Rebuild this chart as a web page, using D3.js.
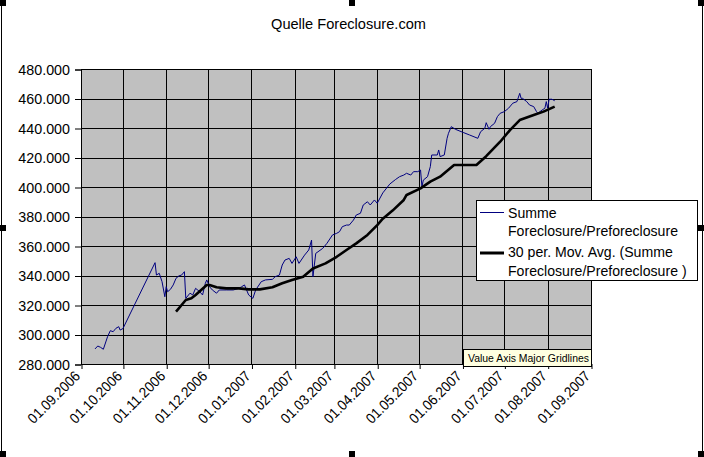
<!DOCTYPE html>
<html><head><meta charset="utf-8">
<script src="https://cdn.jsdelivr.net/npm/d3@7"></script>
<style>html,body{margin:0;padding:0;background:#fff;}svg{display:block;}</style>
</head><body>
<svg id="chart" width="704" height="457"></svg>
<script>
// ---- data (values in thousands) ----
const titleText = "Quelle Foreclosure.com";
const seriesName = "Summe Foreclosure/Preforeclosure";
const maName = "30 per. Mov. Avg. (Summe Foreclosure/Preforeclosure )";
const yTicks = [280,300,320,340,360,380,400,420,440,460,480];
const xTickStart = "2006-09-01", xTickEnd = "2007-09-01";

const sumDates = ["2006-09-11","2006-09-13","2006-09-15","2006-09-17","2006-09-20","2006-09-22","2006-09-24","2006-09-26","2006-09-28","2006-09-29","2006-10-01",
"2006-10-24","2006-10-25","2006-10-27","2006-10-29","2006-10-31","2006-11-01","2006-11-02","2006-11-04","2006-11-06","2006-11-08","2006-11-10","2006-11-12","2006-11-14","2006-11-15","2006-11-18","2006-11-20","2006-11-22","2006-11-25","2006-11-27","2006-11-29","2006-11-30",
"2006-12-02","2006-12-04","2006-12-07","2006-12-09","2006-12-14","2006-12-19","2006-12-23","2006-12-25","2006-12-27","2006-12-30",
"2007-01-02","2007-01-04","2007-01-08","2007-01-11","2007-01-16","2007-01-18","2007-01-21","2007-01-23","2007-01-25","2007-01-28","2007-01-30",
"2007-02-02","2007-02-04","2007-02-08","2007-02-11","2007-02-13","2007-02-14","2007-02-16","2007-02-21","2007-02-24","2007-02-28",
"2007-03-03","2007-03-05","2007-03-07","2007-03-10","2007-03-12","2007-03-15","2007-03-17","2007-03-20","2007-03-22","2007-03-25","2007-03-27","2007-03-30",
"2007-04-01","2007-04-05","2007-04-10","2007-04-14","2007-04-17","2007-04-20","2007-04-22","2007-04-25","2007-04-27","2007-04-30",
"2007-05-02","2007-05-03","2007-05-04","2007-05-07","2007-05-09","2007-05-10","2007-05-14","2007-05-15","2007-05-16","2007-05-19","2007-05-21","2007-05-22","2007-05-24","2007-05-27",
"2007-06-02","2007-06-06","2007-06-12","2007-06-14","2007-06-17","2007-06-18","2007-06-20","2007-06-21","2007-06-24","2007-06-26","2007-06-28",
"2007-07-01","2007-07-04","2007-07-07","2007-07-10","2007-07-12","2007-07-13","2007-07-14","2007-07-17","2007-07-19","2007-07-22","2007-07-24","2007-07-25","2007-07-28","2007-07-30","2007-07-31",
"2007-08-01","2007-08-02","2007-08-04","2007-08-06"];
const sumValues = [290.2,292.2,291.3,290.0,298.5,302.6,301.9,304.2,305.3,303.0,304.0,
348.7,340.3,341.5,335.8,325.6,332.4,329.0,330.6,333.6,338.1,339.7,340.3,342.6,324.5,328.0,326.8,331.3,329.0,326.8,334.7,337.0,
332.4,330.2,328.0,330.2,330.2,330.2,331.3,332.4,333.6,326.8,
324.5,330.2,335.8,337.0,337.4,339.2,340.3,347.1,350.5,351.6,348.2,
352.7,348.2,353.8,357.3,364.0,339.2,355.0,358.4,361.8,367.5,
368.6,369.7,373.1,374.2,374.2,377.6,381.0,382.2,387.8,390.0,387.8,391.2,
389.0,396.0,402.0,405.0,407.0,408.1,409.3,408.1,410.4,410.4,
411.5,400.2,404.7,407.0,413.8,421.7,421.7,425.1,420.6,421.7,433.0,436.4,440.9,439.1,
436.8,435.3,433.0,437.5,439.8,443.6,439.1,440.9,443.2,447.7,450.0,
451.1,453.4,456.8,457.9,463.5,460.1,460.1,457.9,455.6,454.5,451.1,450.0,452.2,453.4,457.9,
453.4,459.5,459.5,458.5];

const maDates = ["2006-11-08","2006-11-10","2006-11-12","2006-11-15","2006-11-19","2006-11-22","2006-11-26","2006-11-30","2006-12-02","2006-12-07","2006-12-14","2006-12-23","2006-12-30",
"2007-01-07","2007-01-16","2007-01-23","2007-01-30","2007-02-07","2007-02-14","2007-02-23","2007-03-03","2007-03-10","2007-03-17","2007-03-25",
"2007-04-01","2007-04-05","2007-04-12","2007-04-20","2007-04-22","2007-05-02","2007-05-09","2007-05-16","2007-05-26","2007-06-11","2007-06-18","2007-06-28",
"2007-07-05","2007-07-12","2007-07-22","2007-07-29","2007-08-06"];
const maValues = [315.5,317.7,320.0,323.4,324.5,326.8,330.2,333.6,333.6,332.0,331.3,331.3,330.6,
330.6,332.0,334.7,337.0,339.2,344.8,348.2,352.7,357.3,361.8,367.5,
374.2,378.5,384.0,391.2,394.6,399.1,403.6,407.0,414.9,414.9,420.9,430.7,
438.6,445.4,448.8,451.1,454.5];

// ---- drawing ----
const FONT = "'Liberation Sans', Arial, sans-serif";
const svg = d3.select("#chart");
const parse = d3.utcParse("%Y-%m-%d");
const plot = {l:81, r:591, t:69, b:364};
const x = d3.scaleUtc().domain([parse(xTickStart), parse(xTickEnd)]).range([plot.l, plot.r]);
const y = d3.scaleLinear().domain([280, 480]).range([plot.b, plot.t]);
const de = d3.formatLocale({decimal:",", thousands:".", grouping:[3], currency:["","€"]});
const yFmt = v => de.format(",.0f")(v*1000);
const xFmt = d3.utcFormat("%d.%m.%Y");
const px = v => Math.round(v) + 0.5;

svg.append("rect").attr("width",704).attr("height",457).attr("fill","#fff");

// title
svg.append("text").attr("x",348.5).attr("y",29).attr("text-anchor","middle")
  .attr("font-family",FONT).attr("font-size","14.6px").text(titleText);

// plot area
svg.append("rect").attr("x",plot.l).attr("y",plot.t).attr("width",plot.r-plot.l).attr("height",plot.b-plot.t).attr("fill","#c0c0c0");

const xTickVals = x.ticks(d3.utcMonth.every(1));
// gridlines
svg.append("g").selectAll("line").data(yTicks).join("line")
  .attr("x1",plot.l).attr("x2",plot.r).attr("y1",d=>px(y(d))).attr("y2",d=>px(y(d)))
  .attr("stroke","#000").attr("stroke-width",1);
svg.append("g").selectAll("line").data(xTickVals).join("line")
  .attr("y1",plot.t).attr("y2",plot.b).attr("x1",d=>px(x(d))).attr("x2",d=>px(x(d)))
  .attr("stroke","#000").attr("stroke-width",1);

// axes
const yAxis = d3.axisLeft(y).tickValues(yTicks).tickFormat(yFmt).tickSize(6).tickPadding(5);
const gy = svg.append("g").attr("transform",`translate(${px(plot.l)-0.5},0.5)`).call(yAxis);
gy.selectAll("text").attr("font-family",FONT).attr("font-size","14.3px").attr("fill","#000");
gy.select(".domain").attr("stroke","#000");
gy.selectAll(".tick line").attr("stroke","#000");

const xAxis = d3.axisBottom(x).tickValues(xTickVals).tickFormat(xFmt).tickSize(5).tickSizeOuter(0);
const gx = svg.append("g").attr("transform",`translate(0.5,${px(plot.b)-0.5})`).call(xAxis);
gx.select(".domain").attr("stroke","#000");
gx.selectAll(".tick line").attr("stroke","#000");
gx.selectAll("text").attr("font-family",FONT).attr("font-size","14.5px").attr("fill","#000")
  .attr("text-anchor","end").attr("dy",null).attr("y",0)
  .attr("textLength",67).attr("lengthAdjust","spacingAndGlyphs")
  .attr("transform","translate(-1,13) rotate(-45)");

// series
const sumData = sumDates.map((d,i)=>({d:parse(d), v:sumValues[i]}));
const maData = maDates.map((d,i)=>({d:parse(d), v:maValues[i]}));
const line = d3.line().x(p=>x(p.d)).y(p=>y(p.v));
svg.append("path").datum(sumData).attr("d",line).attr("fill","none").attr("stroke","#000080").attr("stroke-width",1);
svg.append("path").datum(maData).attr("d",line).attr("fill","none").attr("stroke","#000").attr("stroke-width",2.6).attr("stroke-linejoin","round");

// plot border
svg.append("rect").attr("x",plot.l+0.5).attr("y",plot.t+0.5).attr("width",plot.r-plot.l).attr("height",plot.b-plot.t)
  .attr("fill","none").attr("stroke","#000");

// legend
const lg = svg.append("g");
lg.append("rect").attr("x",476.5).attr("y",200.5).attr("width",221).attr("height",80).attr("fill","#fff").attr("stroke","#000");
lg.append("line").attr("x1",480).attr("x2",504).attr("y1",212.5).attr("y2",212.5).attr("stroke","#000080").attr("stroke-width",1);
lg.append("line").attr("x1",480).attr("x2",504).attr("y1",253).attr("y2",253).attr("stroke","#000").attr("stroke-width",3);
const legLines = [["Summe",217.5],["Foreclosure/Preforeclosure",236],["30 per. Mov. Avg. (Summe",257],["Foreclosure/Preforeclosure )",275.5]];
lg.selectAll("text").data(legLines).join("text").attr("x",508).attr("y",d=>d[1])
  .attr("font-family",FONT).attr("font-size","14.1px").text(d=>d[0]);

// tooltip
const tt = svg.append("g");
tt.append("rect").attr("x",463.5).attr("y",349.5).attr("width",128).attr("height",17).attr("fill","#ffffe1").attr("stroke","#000");
tt.append("text").attr("x",468).attr("y",362).attr("font-family",FONT).attr("font-size","10.6px")
  .attr("textLength",121).attr("lengthAdjust","spacingAndGlyphs").text("Value Axis Major Gridlines");

// chart area frame and selection handles
svg.append("line").attr("x1",1.5).attr("x2",1.5).attr("y1",0).attr("y2",457).attr("stroke","#000");
svg.append("line").attr("x1",702.5).attr("x2",702.5).attr("y1",0).attr("y2",457).attr("stroke","#000");
const handles = [[0,0],[349,0],[698,0],[0,225],[698,225],[0,451],[349,451],[698,451]];
svg.append("g").selectAll("rect").data(handles).join("rect")
  .attr("x",d=>d[0]).attr("y",d=>d[1]).attr("width",6).attr("height",6).attr("fill","#000");
</script>
</body></html>
